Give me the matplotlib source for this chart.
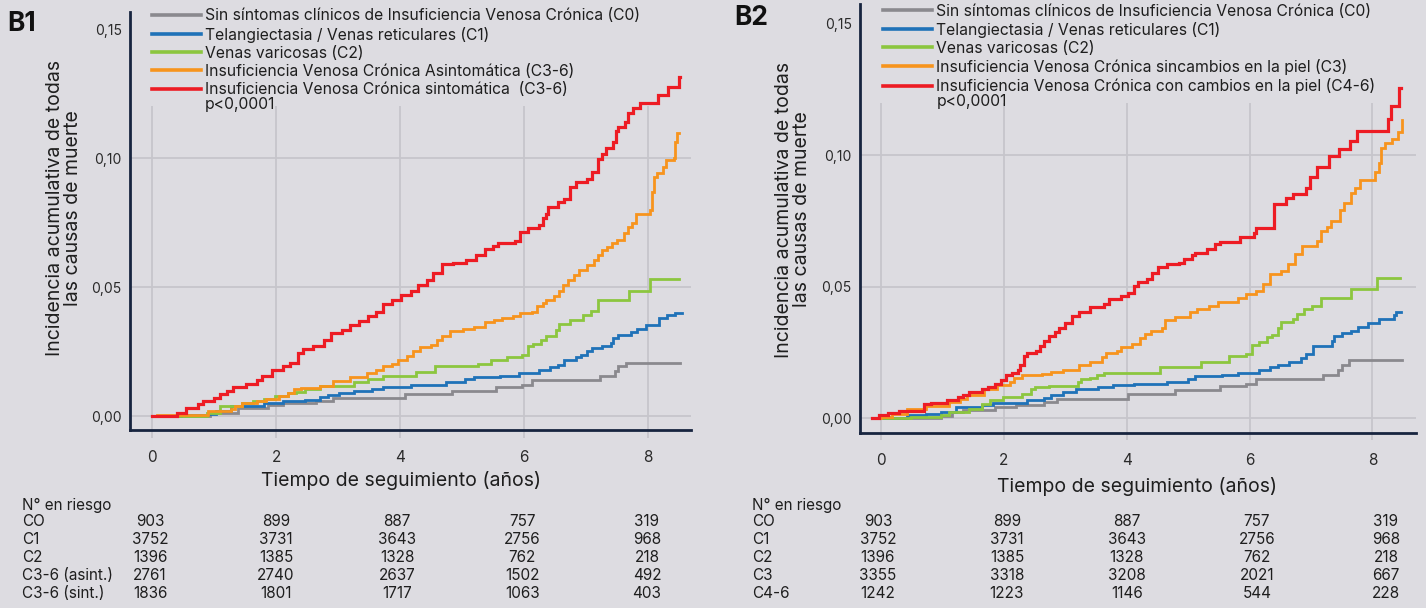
import matplotlib
matplotlib.use("Agg")
import matplotlib.pyplot as plt
from matplotlib.transforms import blended_transform_factory

plt.rcParams['font.family'] = ['Inter', 'DejaVu Sans']

# ---------------- data ----------------
xticks = [0, 2, 4, 6, 8]
xtick_labels = ['0', '2', '4', '6', '8']
yticks = [0.0, 0.05, 0.10, 0.15]
ytick_labels = ['0,00', '0,05', '0,10', '0,15']

b1_labels = ['Sin síntomas clínicos de Insuficiencia Venosa Crónica (C0)',
             'Telangiectasia / Venas reticulares (C1)',
             'Venas varicosas (C2)',
             'Insuficiencia Venosa Crónica Asintomática (C3-6)',
             'Insuficiencia Venosa Crónica sintomática  (C3-6)']
b2_labels = ['Sin síntomas clínicos de Insuficiencia Venosa Crónica (C0)',
             'Telangiectasia / Venas reticulares (C1)',
             'Venas varicosas (C2)',
             'Insuficiencia Venosa Crónica sincambios en la piel (C3)',
             'Insuficiencia Venosa Crónica con cambios en la piel (C4-6)']

# B1 curves
b1_c0_t = [0, 0.94, 1.39, 1.87, 2.11, 2.65, 2.92, 4.08, 4.83, 5.55, 5.97, 6.12, 7.22, 7.46, 7.52, 7.64, 8.51]
b1_c0_v = [0, 0.0010, 0.0032, 0.0041, 0.0049, 0.0058, 0.0071, 0.0084, 0.0097, 0.0113, 0.0122, 0.0138, 0.0157, 0.0174, 0.0193, 0.0207, 0.0207]

b1_c1_t = [0, 0.47, 0.91, 1.03, 1.27, 1.81, 2.11, 2.47, 2.71, 2.83, 3.01, 3.25, 3.55, 3.72, 4.17, 4.74, 5.04, 5.19, 5.61, 5.91,
           6.24, 6.42, 6.54, 6.65, 6.83, 6.92, 7.01, 7.10, 7.25, 7.40, 7.43, 7.52, 7.73, 7.82, 7.97, 8.18, 8.30, 8.44, 8.54]
b1_c1_v = [0, 0.0003, 0.0009, 0.0019, 0.0039, 0.0051, 0.0058, 0.0064, 0.0073, 0.0080, 0.0090, 0.0099, 0.0106, 0.0113, 0.0122,
           0.0131, 0.0142, 0.0151, 0.0157, 0.0167, 0.0178, 0.0189, 0.0199, 0.0216, 0.0229, 0.0238, 0.0251, 0.0264, 0.0270,
           0.0283, 0.0302, 0.0315, 0.0324, 0.0337, 0.0354, 0.0380, 0.0393, 0.0399, 0.0399]

b1_c2_t = [0, 0.88, 1.09, 1.45, 1.63, 1.81, 1.99, 2.20, 2.32, 2.47, 2.71, 3.25, 3.49, 3.72, 4.26, 4.56, 5.25, 5.46, 5.73, 5.97,
           6.06, 6.15, 6.27, 6.36, 6.51, 6.56, 6.74, 6.95, 7.07, 7.19, 7.69, 8.03, 8.49]
b1_c2_v = [0, 0.0013, 0.0039, 0.0049, 0.0058, 0.0067, 0.0077, 0.0088, 0.0093, 0.0106, 0.0116, 0.0131, 0.0142, 0.0157, 0.0170,
           0.0193, 0.0203, 0.0216, 0.0229, 0.0238, 0.0270, 0.0281, 0.0296, 0.0309, 0.0332, 0.0358, 0.0373, 0.0393, 0.0409,
           0.0448, 0.0486, 0.0531, 0.0531]

b1_asint_t = [0, 0.08, 0.91, 1.27, 1.33, 1.45, 1.69, 1.84, 2.05, 2.20, 2.29, 2.41, 2.71, 2.92, 3.19, 3.46, 3.61, 3.72, 3.87,
              3.96, 4.11, 4.20, 4.32, 4.50, 4.59, 4.68, 4.80, 5.01, 5.19, 5.37, 5.52, 5.64, 5.82, 5.94, 6.12, 6.21, 6.30,
              6.36, 6.48, 6.56, 6.62, 6.71, 6.80, 6.89, 7.01, 7.13, 7.19, 7.25, 7.33, 7.41, 7.49, 7.61, 7.68, 7.74, 7.81,
              8.03, 8.06, 8.09, 8.14, 8.24, 8.29, 8.42, 8.43, 8.46, 8.49]
b1_asint_v = [0, 0.0006, 0.0019, 0.0026, 0.0039, 0.0049, 0.0058, 0.0067, 0.0077, 0.0090, 0.0103, 0.0109, 0.0118, 0.0135,
              0.0152, 0.0165, 0.0180, 0.0193, 0.0200, 0.0219, 0.0232, 0.0251, 0.0268, 0.0277, 0.0293, 0.0311, 0.0328,
              0.0337, 0.0347, 0.0363, 0.0373, 0.0380, 0.0386, 0.0399, 0.0405, 0.0425, 0.0438, 0.0450, 0.0466, 0.0483,
              0.0508, 0.0528, 0.0547, 0.0566, 0.0586, 0.0605, 0.0624, 0.0644, 0.0657, 0.0670, 0.0683, 0.0708, 0.0734,
              0.0747, 0.0783, 0.0798, 0.0869, 0.0928, 0.0941, 0.0966, 0.0992, 0.0999, 0.1063, 0.1098, 0.1098]

b1_sint_t = [0, 0.41, 0.54, 0.74, 0.83, 1.00, 1.09, 1.21, 1.30, 1.51, 1.69, 1.78, 1.94, 2.11, 2.23, 2.35, 2.44, 2.59, 2.77,
             2.89, 3.07, 3.19, 3.34, 3.49, 3.61, 3.72, 3.87, 4.01, 4.17, 4.29, 4.44, 4.53, 4.67, 4.86, 5.07, 5.22, 5.37,
             5.49, 5.58, 5.85, 5.94, 6.06, 6.24, 6.30, 6.36, 6.39, 6.54, 6.65, 6.74, 6.83, 7.01, 7.10, 7.19, 7.25, 7.32,
             7.44, 7.48, 7.52, 7.63, 7.68, 7.75, 7.87, 8.16, 8.32, 8.50, 8.52]
b1_sint_v = [0, 0.0013, 0.0032, 0.0045, 0.0058, 0.0071, 0.0084, 0.0097, 0.0113, 0.0126, 0.0139, 0.0157, 0.0178, 0.0193,
             0.0206, 0.0245, 0.0260, 0.0273, 0.0296, 0.0322, 0.0335, 0.0354, 0.0369, 0.0386, 0.0405, 0.0435, 0.0450,
             0.0470, 0.0483, 0.0508, 0.0528, 0.0556, 0.0589, 0.0595, 0.0605, 0.0624, 0.0646, 0.0659, 0.0672, 0.0680,
             0.0714, 0.0727, 0.0740, 0.0766, 0.0785, 0.0811, 0.0830, 0.0843, 0.0888, 0.0907, 0.0920, 0.0946, 0.0997,
             0.1017, 0.1040, 0.1063, 0.1106, 0.1121, 0.1141, 0.1174, 0.1194, 0.1214, 0.1244, 0.1276, 0.1313, 0.1313]

# B2 curves
b2_c0_t = [-0.15, 0.98, 1.16, 1.34, 1.86, 2.20, 2.65, 2.87, 4.02, 4.79, 5.52, 5.95, 6.10, 7.20, 7.44, 7.50, 7.62, 8.48]
b2_c0_v = [0, 0.0008, 0.0023, 0.0029, 0.0042, 0.0051, 0.0061, 0.0073, 0.0092, 0.0105, 0.0121, 0.0130, 0.0147, 0.0164,
           0.0184, 0.0200, 0.0219, 0.0219]

b2_c1_t = [-0.15, 0.43, 0.73, 0.98, 1.22, 1.65, 1.83, 2.38, 2.65, 2.77, 2.96, 3.17, 3.54, 3.78, 4.12, 4.66, 5.00, 5.12,
           5.55, 5.82, 6.16, 6.34, 6.46, 6.65, 6.83, 6.92, 7.04, 7.35, 7.38, 7.50, 7.65, 7.77, 7.93, 8.11, 8.35, 8.38, 8.46]
b2_c1_v = [0, 0.0010, 0.0016, 0.0023, 0.0042, 0.0051, 0.0058, 0.0067, 0.0076, 0.0086, 0.0099, 0.0109, 0.0117, 0.0124,
           0.0130, 0.0139, 0.0149, 0.0159, 0.0164, 0.0172, 0.0181, 0.0193, 0.0202, 0.0215, 0.0227, 0.0244, 0.0273,
           0.0294, 0.0313, 0.0323, 0.0332, 0.0345, 0.0361, 0.0376, 0.0392, 0.0404, 0.0404]

b2_c2_t = [-0.15, 0.49, 0.98, 1.10, 1.43, 1.65, 1.77, 1.98, 2.29, 2.44, 2.50, 2.74, 3.20, 3.26, 3.41, 3.51, 3.63, 4.54,
           5.21, 5.67, 5.95, 6.04, 6.16, 6.28, 6.37, 6.46, 6.52, 6.71, 6.77, 6.89, 7.01, 7.16, 7.65, 8.08, 8.45]
b2_c2_v = [0, 0.0004, 0.0013, 0.0023, 0.0033, 0.0054, 0.0067, 0.0080, 0.0092, 0.0109, 0.0117, 0.0121, 0.0136, 0.0147,
           0.0152, 0.0162, 0.0172, 0.0193, 0.0212, 0.0235, 0.0244, 0.0278, 0.0290, 0.0307, 0.0316, 0.0341, 0.0364,
           0.0376, 0.0395, 0.0414, 0.0427, 0.0455, 0.0493, 0.0534, 0.0534]

b2_c3_t = [-0.15, 0.00, 0.18, 0.43, 0.73, 1.10, 1.28, 1.40, 1.68, 1.89, 2.10, 2.16, 2.29, 2.62, 2.77, 2.96, 3.23, 3.41,
           3.60, 3.66, 3.84, 3.90, 4.09, 4.21, 4.30, 4.39, 4.57, 4.63, 4.79, 5.03, 5.15, 5.34, 5.49, 5.82, 5.95, 6.10,
           6.22, 6.34, 6.52, 6.62, 6.74, 6.86, 7.10, 7.16, 7.26, 7.32, 7.47, 7.53, 7.65, 7.71, 7.80, 8.05, 8.11, 8.14,
           8.20, 8.32, 8.41, 8.48, 8.49]
b2_c3_v = [0, 0.0004, 0.0016, 0.0035, 0.0045, 0.0061, 0.0073, 0.0088, 0.0109, 0.0126, 0.0139, 0.0152, 0.0162, 0.0168,
           0.0177, 0.0184, 0.0200, 0.0212, 0.0231, 0.0248, 0.0256, 0.0269, 0.0282, 0.0303, 0.0320, 0.0332, 0.0341,
           0.0374, 0.0386, 0.0402, 0.0414, 0.0427, 0.0442, 0.0455, 0.0471, 0.0484, 0.0509, 0.0547, 0.0559, 0.0585,
           0.0623, 0.0654, 0.0673, 0.0711, 0.0727, 0.0749, 0.0793, 0.0818, 0.0856, 0.0875, 0.0907, 0.0938, 0.0970,
           0.1027, 0.1046, 0.1061, 0.1090, 0.1134, 0.1134]

b2_c46_t = [-0.15, -0.03, 0.12, 0.30, 0.70, 0.82, 1.07, 1.25, 1.34, 1.43, 1.65, 1.74, 1.86, 1.95, 2.04, 2.13, 2.23, 2.26,
            2.32, 2.38, 2.53, 2.59, 2.65, 2.74, 2.84, 2.90, 2.99, 3.11, 3.23, 3.41, 3.63, 3.72, 3.90, 4.02, 4.12, 4.18,
            4.33, 4.42, 4.51, 4.66, 4.85, 4.94, 5.06, 5.12, 5.30, 5.43, 5.52, 5.85, 6.07, 6.10, 6.40, 6.59, 6.71, 6.92,
            6.98, 7.10, 7.29, 7.45, 7.63, 7.75, 8.26, 8.30, 8.44, 8.47]
b2_c46_v = [0, 0.0010, 0.0020, 0.0025, 0.0054, 0.0058, 0.0067, 0.0080, 0.0088, 0.0098, 0.0111, 0.0117, 0.0128, 0.0143,
            0.0162, 0.0172, 0.0181, 0.0200, 0.0237, 0.0248, 0.0256, 0.0275, 0.0294, 0.0311, 0.0326, 0.0341, 0.0361,
            0.0389, 0.0402, 0.0421, 0.0433, 0.0452, 0.0465, 0.0477, 0.0503, 0.0518, 0.0528, 0.0551, 0.0576, 0.0585,
            0.0591, 0.0604, 0.0619, 0.0629, 0.0644, 0.0661, 0.0669, 0.0690, 0.0705, 0.0724, 0.0816, 0.0837, 0.0854,
            0.0875, 0.0919, 0.0957, 0.0998, 0.1023, 0.1055, 0.1093, 0.1137, 0.1188, 0.1255, 0.1255]

# numbers at risk
b1_risk_rows = ['CO', 'C1', 'C2', 'C3-6 (asint.)', 'C3-6 (sint.)']
b1_risk = [[903, 899, 887, 757, 319],
           [3752, 3731, 3643, 2756, 968],
           [1396, 1385, 1328, 762, 218],
           [2761, 2740, 2637, 1502, 492],
           [1836, 1801, 1717, 1063, 403]]
b2_risk_rows = ['CO', 'C1', 'C2', 'C3', 'C4-6']
b2_risk = [[903, 899, 887, 757, 319],
           [3752, 3731, 3643, 2756, 968],
           [1396, 1385, 1328, 762, 218],
           [3355, 3318, 3208, 2021, 667],
           [1242, 1223, 1146, 544, 228]]

# ---------------- style ----------------
BG = '#dddce1'
GRID = '#c6c5cb'
NAVY = '#17243f'
TXT = '#1e1e1e'
COLORS = ['#8a898e', '#1f72b8', '#8cc63f', '#f7941d', '#ed1c24']
LWS = [2.0, 2.0, 2.0, 2.0, 2.3]
LEG_FS = 11.3
TAB_FS = 11

W, H = 1426, 608
fig = plt.figure(figsize=(W / 100, H / 100), dpi=100, facecolor=BG)


def fx(px):
    return px / W


def fy(py):
    return 1 - py / H


def setup_axes(rect_px, xlim, ylim, tick_below):
    l, t, r, b = rect_px
    ax = fig.add_axes([fx(l), fy(b), (r - l) / W, (b - t) / H])
    ax.set_facecolor(BG)
    ax.set_xlim(*xlim)
    ax.set_ylim(*ylim)
    for s in ['top', 'right']:
        ax.spines[s].set_visible(False)
    for s in ['left', 'bottom']:
        ax.spines[s].set_color(NAVY)
        ax.spines[s].set_linewidth(2.0)
        ax.spines[s].set_zorder(5)
    ax.set_xticks(xticks)
    ax.set_xticklabels(xtick_labels)
    ax.set_yticks(yticks)
    ax.set_yticklabels(ytick_labels)
    ax.tick_params(axis='x', length=0, pad=14.5, labelsize=11, labelcolor='#2a2a2a')
    ax.tick_params(axis='y', length=0, pad=6, labelsize=10, labelcolor='#2a2a2a')
    ax.vlines(xticks, tick_below, 0.12, colors=GRID, lw=1.3, zorder=0.5, clip_on=False)
    for yv in yticks[:3]:
        ax.axhline(yv, color=GRID, lw=1.3, zorder=0.5)
    return ax


ax1 = setup_axes((130, 12, 691, 430), (-0.355, 8.69), (-0.0054, 0.1566), -0.0085)
ax2 = setup_axes((860, 4, 1416, 433), (-0.342, 8.71), (-0.0057, 0.1576), -0.0085)

b1_series = [(b1_c0_t, b1_c0_v), (b1_c1_t, b1_c1_v), (b1_c2_t, b1_c2_v),
             (b1_asint_t, b1_asint_v), (b1_sint_t, b1_sint_v)]
b2_series = [(b2_c0_t, b2_c0_v), (b2_c1_t, b2_c1_v), (b2_c2_t, b2_c2_v),
             (b2_c3_t, b2_c3_v), (b2_c46_t, b2_c46_v)]


def draw_curves(ax, series, labels, leg_x, leg_top):
    handles = []
    for (t, v), c, lw, lab in zip(series, COLORS, LWS, labels):
        h, = ax.step(t, v, where='post', color=c, lw=lw, label=lab, zorder=3,
                     solid_joinstyle='miter')
        handles.append(h)
    leg = ax.legend(handles=handles, loc='upper left',
                    bbox_to_anchor=(fx(leg_x), fy(leg_top)), bbox_transform=fig.transFigure,
                    frameon=False, borderpad=0, borderaxespad=0, fontsize=LEG_FS,
                    handlelength=3.1, handletextpad=0.25, labelspacing=0.2)
    for txt in leg.get_texts():
        txt.set_color(TXT)
    for ln in leg.get_lines():
        ln.set_linewidth(2.6)
    return leg


draw_curves(ax1, b1_series, b1_labels, 152, 8.5)
draw_curves(ax2, b2_series, b2_labels, 883, 3.5)
fig.text(fx(205), fy(105), 'p<0,0001', fontsize=LEG_FS, color=TXT, va='center', ha='left')
fig.text(fx(937), fy(101), 'p<0,0001', fontsize=LEG_FS, color=TXT, va='center', ha='left')

# axis labels
for ax, xc, yc, yx, yy in [(ax1, 0.483, -0.122, -0.118, 0.531), (ax2, 0.498, -0.124, -0.12, 0.521)]:
    ax.set_xlabel('Tiempo de seguimiento (años)', fontsize=14, color=TXT)
    ax.xaxis.set_label_coords(xc, yc)
    ax.xaxis.label.set_va('center')
    ax.set_ylabel('Incidencia acumulativa de todas\nlas causas de muerte', fontsize=14,
                  color=TXT, multialignment='center', linespacing=1.0)
    ax.yaxis.set_label_coords(yx, yy)
    ax.yaxis.label.set_va('center')

fig.text(fx(7), fy(24), 'B1', fontsize=19, fontweight='bold', color='#111111', va='center', ha='left')
fig.text(fx(734), fy(18), 'B2', fontsize=19, fontweight='bold', color='#111111', va='center', ha='left')

# risk tables
row_y = [522, 540, 558, 576, 593]


def risk_table(ax, label_x, rows, values, col_x):
    tr = blended_transform_factory(ax.transData, fig.transFigure)
    fig.text(fx(label_x), fy(505), 'N° en riesgo', fontsize=TAB_FS, color=TXT, va='center', ha='left')
    for name, vals, ry in zip(rows, values, row_y):
        fig.text(fx(label_x), fy(ry), name, fontsize=TAB_FS, color=TXT, va='center', ha='left')
        for cx, val in zip(col_x, vals):
            ax.text(cx, fy(ry), str(val), transform=tr, fontsize=TAB_FS, color=TXT,
                    va='center', ha='center', clip_on=False)


risk_table(ax1, 22, b1_risk_rows, b1_risk, [-0.03, 2.0, 3.95, 5.97, 7.98])
risk_table(ax2, 752, b2_risk_rows, b2_risk, [-0.05, 2.05, 4.0, 6.12, 8.22])

fig.savefig('out.png', dpi=100, facecolor=BG)
